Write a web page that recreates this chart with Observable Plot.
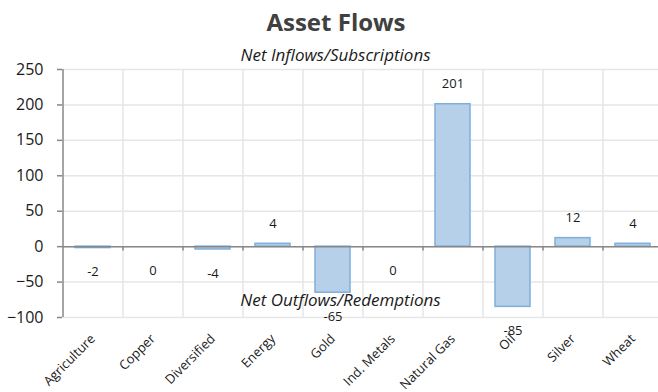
<!DOCTYPE html>
<html>
<head>
<meta charset="utf-8">
<script src="https://cdn.jsdelivr.net/npm/d3@7"></script>
<script src="https://cdn.jsdelivr.net/npm/@observablehq/plot@0.6"></script>
<style>
  html, body { margin: 0; padding: 0; background: #fff; overflow: hidden; }
  body { width: 658px; height: 392px; font-family: "Open Sans", sans-serif; }
  #title { height: 40px; line-height: 44px; text-align: center; font-weight: bold;
           font-size: 24px; color: #404040; padding-left: 14px; }
</style>
</head>
<body>
<div id="title">Asset Flows</div>
<div id="chart"></div>
<script>
// Net flows by commodity sector
const categories = ["Agriculture", "Copper", "Diversified", "Energy", "Gold",
                    "Ind. Metals", "Natural Gas", "Oil", "Silver", "Wheat"];
const flows = [-2, 0, -4, 4, -65, 0, 201, -85, 12, 4];
const yTicks = [-100, -50, 0, 50, 100, 150, 200, 250];

const data = categories.map((c, i) => ({category: c, value: flows[i]}));
const pos = data.filter(d => d.value > 0);
const neg = data.filter(d => d.value <= 0);

const font = "Open Sans";
const gridColor = "#e6e6e6";
const axisColor = "#878787";
const textColor = "#1a1a1a";

const chart = Plot.plot({
  width: 658,
  height: 352,
  marginLeft: 62,
  marginRight: 0,
  marginTop: 29,
  marginBottom: 75,
  style: {fontFamily: font, overflow: "visible"},
  x: {domain: categories, range: [62, 662], paddingInner: 0.42, paddingOuter: 0.21, axis: null},
  y: {domain: [-100, 250], axis: null},
  marks: [
    // horizontal gridlines
    Plot.ruleY(yTicks, {stroke: gridColor, strokeWidth: 1.5}),
    // vertical gridlines at category boundaries
    Plot.ruleX(categories, {x: d => d, dx: 30, y1: -100, y2: 250, stroke: gridColor, strokeWidth: 1.5}),
    // bars
    Plot.barY(data, {x: "category", y: "value", fill: "#b5d0e8", stroke: "#80aedb", strokeWidth: 1.5}),
    // zero baseline with small ticks between categories
    Plot.ruleY([0], {stroke: axisColor, strokeWidth: 1.5}),
    Plot.ruleX(categories, {x: d => d, dx: 30, y1: 0, y2: -6, stroke: axisColor, strokeWidth: 1.5}),
    // y axis line (left edge of the first category band) and ticks
    Plot.ruleX([categories[0]], {x: d => d, dx: -30, y1: -100, y2: 250, stroke: axisColor, strokeWidth: 1.5}),
    Plot.axisY(yTicks, {tickSize: 5, tickPadding: 14, stroke: axisColor, strokeWidth: 1.5,
                        fontSize: 16, fill: textColor, label: null}),
    // value labels
    Plot.text(pos, {x: "category", y: "value", text: d => String(d.value), dy: -20,
                    fontSize: 13, fill: textColor}),
    Plot.text(neg, {x: "category", y: "value", text: d => String(d.value), dy: 24,
                    fontSize: 13, fill: textColor}),
    // category labels
    Plot.text(categories, {x: d => d, frameAnchor: "bottom", rotate: -45, textAnchor: "end",
                           dx: 3, dy: 22, fontSize: 13, fill: textColor}),
    // annotations
    Plot.text(["Net Inflows/Subscriptions"], {frameAnchor: "top", lineAnchor: "middle", dx: -25, dy: -14,
                    fontSize: 17, fontStyle: "italic", fill: textColor}),
    Plot.text(["Net Outflows/Redemptions"], {frameAnchor: "bottom", lineAnchor: "middle", dx: -20, dy: -17,
                    fontSize: 17, fontStyle: "italic", fill: textColor})
  ]
});
document.getElementById("chart").appendChild(chart);
</script>
</body>
</html>
